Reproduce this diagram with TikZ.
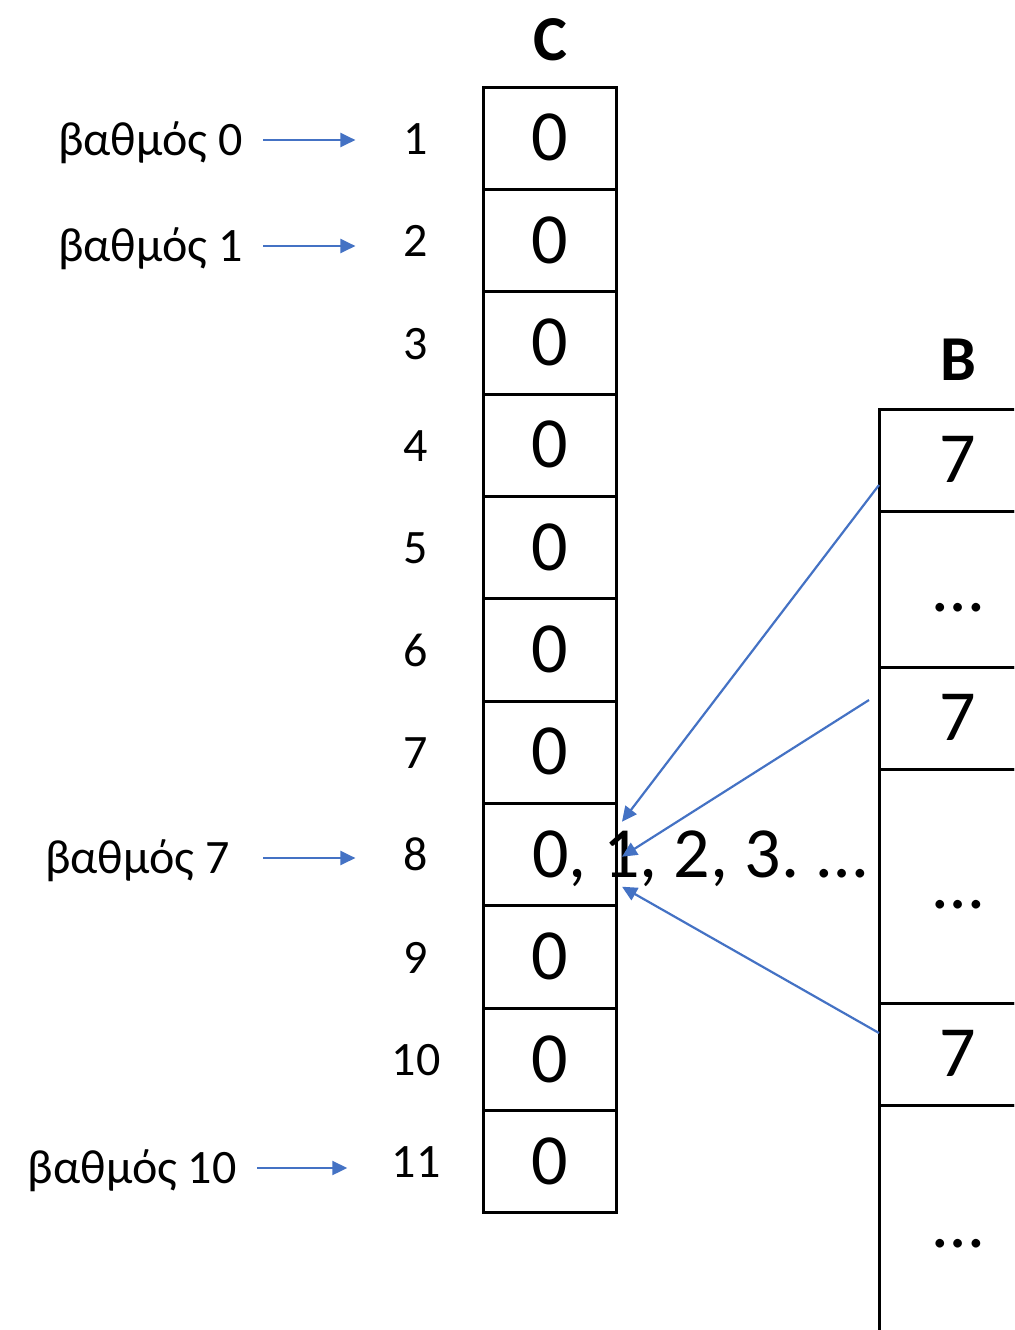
\documentclass[tikz,border=0pt]{standalone}
\usepackage{fontspec}
\setmainfont{Carlito}
\usetikzlibrary{arrows.meta}
\definecolor{linkblue}{HTML}{4472C4}

\begin{document}
\begin{tikzpicture}[x=0.5pt,y=-0.5pt,
  bigfont/.style={font=\fontsize{36}{36}\selectfont, text height=22.6pt, text depth=0pt},
  smallfont/.style={font=\fontsize{24}{24}\selectfont, text height=15.2pt, text depth=0pt},
  ccell/.style={draw=black, line width=1.5pt, minimum width=66.5pt, minimum height=51.18pt,
    inner sep=0pt, outer sep=0pt, bigfont},
  bcell/.style={draw=black, line width=1.5pt, minimum width=79pt, inner sep=0pt,
    outer sep=0pt, anchor=north west, bigfont},
  idx/.style={inner sep=0pt, smallfont},
  lbl/.style={inner sep=0pt, anchor=east, smallfont},
  title/.style={inner sep=0pt, font=\fontsize{32}{32}\selectfont\bfseries},
  harrow/.style={draw=linkblue, line width=1.1pt, -{Triangle[length=7.5pt,width=7pt]},
    shorten <=10pt, shorten >=24pt},
  link/.style={draw=linkblue, line width=1.1pt, -{Triangle[length=7.5pt,width=7pt]}}
]
\useasboundingbox (0,0) rectangle (1014,1330);
\clip (0,0) rectangle (1014,1330);

% array C with its row numbers
\node[title] (ctitle) at (550,40) {C};
\foreach \i in {1,...,11}{
  \pgfmathsetmacro{\yc}{87+(\i-0.5)*102.36}
  \node[ccell] (c\i) at (549.5,\yc) {\ifnum\i=8 \else 0\fi};
  \node[idx] (n\i) at (416,\yc+1) {\i};
}
\node[inner sep=0pt, anchor=west, bigfont] (c8txt) at (532,854.7) {0, 1, 2, 3.\kern-2pt{} …};

% array B
\node[title] (btitle) at (958,360) {B};
\node[bcell, minimum height=51pt] (b1) at (879,409) {7};
\node[bcell, minimum height=78pt] (b2) at (b1.south west) {…};
\node[bcell, minimum height=51pt] (b3) at (b2.south west) {7};
\node[bcell, minimum height=117pt] (b4) at (b3.south west) {…};
\node[bcell, minimum height=51pt] (b5) at (b4.south west) {7};
\node[bcell, minimum height=120pt] (b6) at (b5.south west) {…};

% degree labels
\node[lbl] (l0) at (243,140) {βαθμός 0};
\node[lbl] (l1) at (243,246) {βαθμός 1};
\node[lbl] (l7) at (230,858) {βαθμός 7};
\node[lbl] (l10) at (237,1168) {βαθμός 10};

\draw[harrow] (l0.east) -- (l0.east -| n1.west);
\draw[harrow] (l1.east) -- (l1.east -| n2.west);
\draw[harrow, shorten <=16.5pt] (l7.east) -- (l7.east -| n8.west);
\draw[harrow, shorten >=22pt] (l10.east) -- (l10.east -| n11.west);

% links from B into row 8 of C
\coordinate (s2) at ([xshift=-5pt,yshift=9pt]b3.west);
\draw[link] ([yshift=-12.5pt]b1.west) -- ([xshift=3pt,yshift=16.5pt]c8.east);
\draw[link] (s2) -- ([xshift=3pt,yshift=-1pt]c8.east);
\draw[link] ([yshift=10.5pt]b5.west) -- ([xshift=3pt,yshift=-16pt]c8.east);
\end{tikzpicture}
\end{document}
